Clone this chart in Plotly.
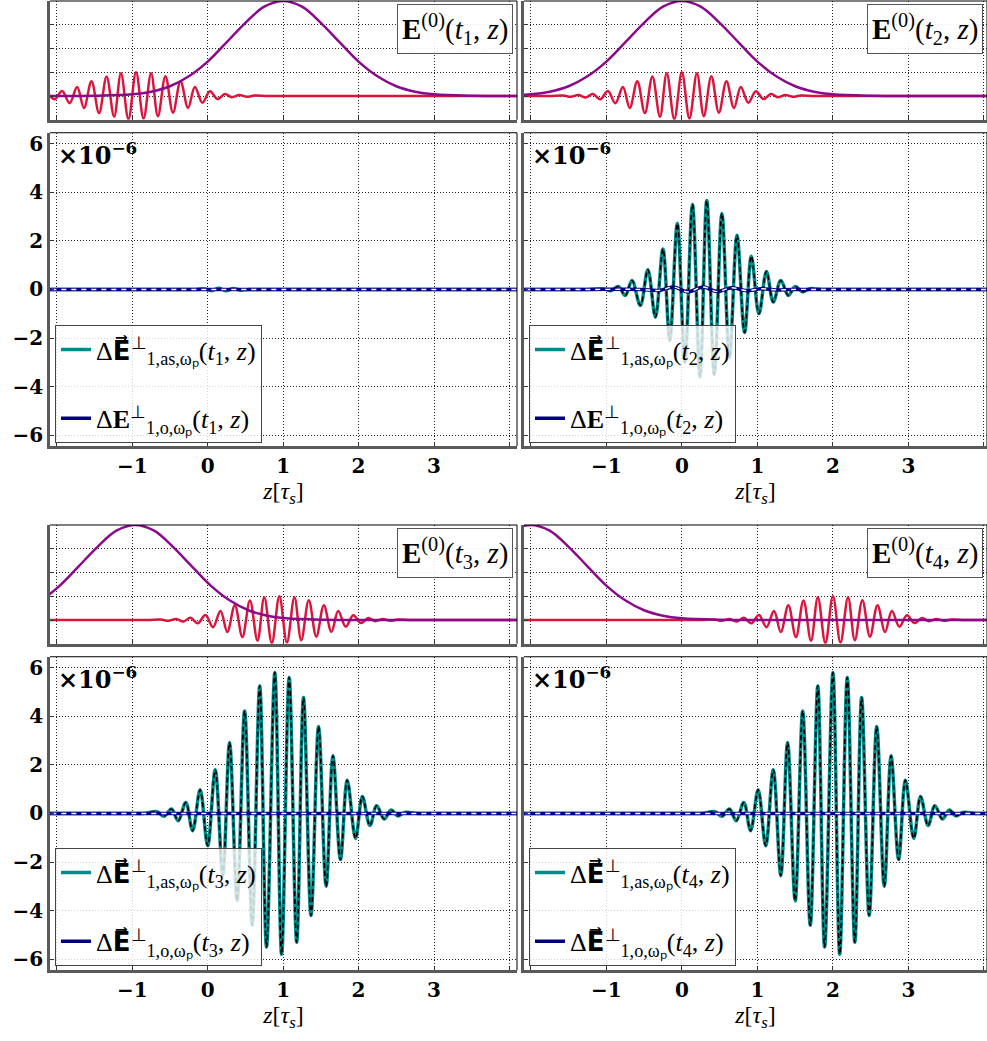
import plotly.graph_objects as go

# ---------------- data ----------------
X_TICKS = [-2, -1, 0, 1, 2, 3, 4]
X_TICKTEXT = ["", "\u22121", "0", "1", "2", "3", ""]
Y_BIG_TICKS = [-6, -4, -2, 0, 2, 4, 6]
Y_SMALL_TICKS = [-1, 0, 1, 2, 3, 4]

# pump envelope E^(0) (purple) – sampled shape relative to its peak
ENV_OFFSETS = [-7.0, -4.5, -3.2, -2.5, -2.0, -1.75, -1.5, -1.25, -1.0, -0.75, -0.5, -0.25, 0.0,
               0.25, 0.5, 0.75, 1.0, 1.25, 1.5, 1.75, 2.0, 2.5, 3.2, 4.5, 7.0]
ENV_VALUES = [0.0, 0.0, 0.0, 0.01, 0.07, 0.18, 0.41, 0.83, 1.45, 2.26, 3.08, 3.76, 4.0,
              3.76, 3.08, 2.26, 1.45, 0.83, 0.41, 0.18, 0.07, 0.01, 0.0, 0.0, 0.0]
PURPLE_CENTERS = [1.0, 0.0, -0.96, -2.0]

# probe field (red) – extrema relative to pulse centre (zeros where the trace is flat)
RED_OFFSETS = [-7.0, -5.0, -3.5, -2.6, -2.1, -1.75, -1.57, -1.47, -1.37, -1.27, -1.18, -1.08,
               -0.98, -0.88, -0.78, -0.69, -0.59, -0.49, -0.39, -0.29, -0.20, -0.10, 0.0,
               0.10, 0.20, 0.29, 0.39, 0.49, 0.59, 0.69, 0.78, 0.88, 0.98, 1.08, 1.18, 1.27,
               1.37, 1.47, 1.57, 1.75, 2.1, 2.6, 3.5, 5.0, 7.0]
RED_VALUES = [0.0, 0.0, 0.0, 0.0, 0.0, 0.0, 0.02, -0.03, 0.04, -0.06, 0.09, -0.14,
              0.21, -0.30, 0.38, -0.50, 0.62, -0.72, 0.82, -0.87, 0.96, -0.97, 1.0,
              -0.95, 0.96, -0.85, 0.83, -0.70, 0.62, -0.50, 0.38, -0.28, 0.20, -0.13, 0.08, -0.05,
              0.04, -0.03, 0.02, 0.0, 0.0, 0.0, 0.0, 0.0, 0.0]
RED_CENTERS = [-0.95, 0.0, 0.95, 2.0]

# Delta E_as (teal) for t1 : essentially zero, tiny ripple
T1_AS_Z = [-3.0, -1.5, -0.6, -0.3, -0.15, -0.05, 0.05, 0.15, 0.24, 0.34, 0.44, 0.54, 0.7,
           1.0, 2.0, 3.0, 5.0]
T1_AS_V = [0.0, 0.0, 0.0, 0.0, 0.0, 0.03, -0.05, 0.05, -0.05, 0.04, -0.03, 0.0, 0.0,
           0.0, 0.0, 0.0, 0.0]

# Delta E_as (teal) for t2
T2_AS_Z = [-3.0, -2.2, -1.6, -1.25, -1.03, -0.94, -0.84, -0.75, -0.66, -0.55, -0.45, -0.35,
           -0.25, -0.16, -0.06, 0.04, 0.14, 0.24, 0.33, 0.43, 0.53, 0.63, 0.73, 0.83, 0.92,
           1.02, 1.12, 1.21, 1.31, 1.41, 1.50, 1.60, 1.69, 1.85, 2.2, 2.8, 3.6, 5.0]
T2_AS_V = [0.0, 0.0, 0.0, 0.0, 0.02, -0.05, 0.12, -0.25, 0.37, -0.66, 0.81, -1.14,
           1.66, -2.10, 2.72, -3.00, 3.50, -3.60, 3.66, -3.50, 3.13, -2.80, 2.23, -1.77, 1.37,
           -1.00, 0.74, -0.52, 0.37, -0.25, 0.12, -0.10, 0.03, 0.0, 0.0, 0.0, 0.0, 0.0]

# Delta E_as (teal) for t3 / t4 : same packet, different centres
PACKET_OFFSETS = [-6.0, -4.5, -3.4, -2.6, -2.1, -1.75, -1.56, -1.47, -1.37, -1.28, -1.18,
                  -1.09, -0.99, -0.89, -0.79, -0.69, -0.60, -0.50, -0.40, -0.30, -0.20,
                  -0.11, 0.0, 0.09, 0.19, 0.29, 0.38, 0.48, 0.58, 0.68, 0.77, 0.87, 0.96,
                  1.07, 1.16, 1.26, 1.35, 1.45, 1.54, 1.63, 1.72, 1.9, 2.3, 2.9, 3.8, 6.0]
PACKET_VALUES = [0.0, 0.0, 0.0, 0.0, 0.0, 0.0, 0.07, -0.12, 0.18, -0.30, 0.45,
                 -0.71, 0.97, -1.33, 1.80, -2.56, 2.92, -3.60, 4.22, -4.60, 5.25,
                 -5.50, 5.80, -5.80, 5.60, -5.30, 4.77, -4.20, 3.58, -3.00, 2.37, -1.90, 1.37,
                 -1.03, 0.70, -0.50, 0.32, -0.23, 0.14, -0.10, 0.04, 0.0, 0.0, 0.0, 0.0, 0.0]
PACKET_CENTERS = [0.89, 2.0]

# Delta E_o (navy)
T2_O_Z = [-3.0, -2.0, -1.2, -0.55, -0.30, -0.11, 0.08, 0.28, 0.47, 0.66, 0.86, 1.05,
          1.25, 1.45, 1.8, 2.6, 3.5, 5.0]
T2_O_V = [0.0, 0.0, 0.0, 0.0, -0.04, 0.10, -0.10, 0.10, -0.09, 0.07, -0.05, 0.03,
          -0.02, 0.0, 0.0, 0.0, 0.0, 0.0]
FLAT_O_Z = [-3.0, 5.0]
FLAT_O_V = [0.0, 0.0]

TIME_LABELS = ["1", "2", "3", "4"]

# ---------------- styling ----------------
W, H = 987, 1041
PURPLE = "#8b0a8b"
RED = "#dc143c"
TEAL = "#008b8b"
NAVY = "#000080"
GRID = "rgba(0,0,0,0.85)"
TXT_FONT = "Liberation Serif"
TICK_FONT = dict(family="DejaVu Serif", size=20, color="black", weight="bold")

LEFT_DOM = [50 / W, 517 / W]
RIGHT_DOM = [524 / W, 1.0]
LEFT_RANGE = [-2.09, 4.1]
RIGHT_RANGE = [-2.09, 4.04]

VEC_E = '<span style="font-family:DejaVu Sans">E\u20d7</span>'


def ydom(top_px, bot_px):
    return [1 - bot_px / H, 1 - top_px / H]


def xn(i):
    return "x" if i == 1 else f"x{i}"


def yn(i):
    return "y" if i == 1 else f"y{i}"


SMALL_DOMS = [ydom(0, 119), ydom(0, 119), ydom(525, 644), ydom(525, 644)]
BIG_DOMS = [ydom(132, 446), ydom(132, 446), ydom(657, 971), ydom(657, 971)]
X_DOMS = [LEFT_DOM, RIGHT_DOM, LEFT_DOM, RIGHT_DOM]
X_RANGES = [LEFT_RANGE, RIGHT_RANGE, LEFT_RANGE, RIGHT_RANGE]

fig = go.Figure()
layout = dict(width=W, height=H, margin=dict(l=0, r=0, t=0, b=0),
              plot_bgcolor="white", paper_bgcolor="white", showlegend=True)
shapes = []
annotations = []


def axis_common():
    return dict(showgrid=True, gridcolor=GRID, griddash="1px,2px", gridwidth=1,
                zeroline=False, showline=True, linecolor="#5a5a5a", linewidth=2.5,
                ticks="inside", ticklen=4, tickcolor="#333", tickwidth=1)


for p in range(4):
    si = 2 * p + 1
    bi = 2 * p + 2
    left = p % 2 == 0
    t = TIME_LABELS[p]

    xa = axis_common()
    xa.update(domain=X_DOMS[p], range=X_RANGES[p], tickvals=X_TICKS, showticklabels=False,
              anchor=yn(si))
    ya = axis_common()
    ya.update(domain=SMALL_DOMS[p], range=[-1, 4], tickvals=Y_SMALL_TICKS, showticklabels=False,
              anchor=xn(si))
    layout["xaxis" if si == 1 else f"xaxis{si}"] = xa
    layout["yaxis" if si == 1 else f"yaxis{si}"] = ya

    xb = axis_common()
    xb.update(domain=X_DOMS[p], range=X_RANGES[p], tickvals=X_TICKS, ticktext=X_TICKTEXT,
              tickfont=TICK_FONT, anchor=yn(bi),
              title=dict(text="<i>z</i>[<i>\u03c4<sub>s</sub></i>]",
                         font=dict(family=TXT_FONT, size=24, color="black"), standoff=4))
    yb = axis_common()
    yb.update(domain=BIG_DOMS[p], range=[-6.45, 6.45], tickvals=Y_BIG_TICKS,
              showticklabels=left, tickfont=TICK_FONT, anchor=xn(bi))
    layout[f"xaxis{bi}"] = xb
    layout[f"yaxis{bi}"] = yb

    for ai in (si, bi):
        shapes.append(dict(type="line", xref=f"{xn(ai)} domain", yref=f"{yn(ai)} domain",
                           x0=0, x1=1, y0=1, y1=1, line=dict(color="black", width=1)))
        shapes.append(dict(type="line", xref=f"{xn(ai)} domain", yref=f"{yn(ai)} domain",
                           x0=1, x1=1, y0=0, y1=1, line=dict(color="black", width=1)))

    rc = RED_CENTERS[p]
    fig.add_trace(go.Scatter(x=[rc + o for o in RED_OFFSETS], y=RED_VALUES, mode="lines",
                             line=dict(color=RED, width=2.5, shape="spline", smoothing=1.0),
                             xaxis=xn(si), yaxis=yn(si), showlegend=False))
    pc = PURPLE_CENTERS[p]
    fig.add_trace(go.Scatter(x=[pc + o for o in ENV_OFFSETS], y=ENV_VALUES, mode="lines",
                             line=dict(color=PURPLE, width=2.5, shape="spline", smoothing=1.0),
                             xaxis=xn(si), yaxis=yn(si), showlegend=False))

    annotations.append(dict(
        xref=f"{xn(si)} domain", yref=f"{yn(si)} domain", x=0.992, y=0.975,
        xanchor="right", yanchor="top", showarrow=False,
        text=f"<b>E</b><sup>(0)</sup>(<i>t</i><sub>{t}</sub>, <i>z</i>)",
        font=dict(family=TXT_FONT, size=29, color="black"),
        bordercolor="#555", borderwidth=1, borderpad=4, bgcolor="rgba(255,255,255,0.9)"))

    if p == 0:
        az, av = T1_AS_Z, T1_AS_V
    elif p == 1:
        az, av = T2_AS_Z, T2_AS_V
    else:
        c = PACKET_CENTERS[p - 2]
        az, av = [c + o for o in PACKET_OFFSETS], PACKET_VALUES
    if p == 1:
        oz, ov = T2_O_Z, T2_O_V
    else:
        oz, ov = FLAT_O_Z, FLAT_O_V

    leg = "legend" if p == 0 else f"legend{p + 1}"
    e_o = VEC_E if p >= 2 else "E"
    as_name = (f"\u0394<b>{VEC_E}</b><sup>\u22a5</sup><sub>1,as,\u03c9\u209a</sub>"
               f"(<i>t</i><sub>{t}</sub>, <i>z</i>)")
    o_name = (f"\u0394<b>{e_o}</b><sup>\u22a5</sup><sub>1,o,\u03c9\u209a</sub>"
              f"(<i>t</i><sub>{t}</sub>, <i>z</i>)")

    fig.add_trace(go.Scatter(x=az, y=av, mode="lines", name=as_name,
                             line=dict(color=TEAL, width=3.5, shape="spline", smoothing=1.0),
                             xaxis=xn(bi), yaxis=yn(bi), legend=leg, legendgroup=f"as{p}"))
    fig.add_trace(go.Scatter(x=az, y=av, mode="lines", showlegend=False,
                             line=dict(color="black", width=1.6, dash="5px,3px",
                                       shape="spline", smoothing=1.0),
                             xaxis=xn(bi), yaxis=yn(bi)))
    fig.add_trace(go.Scatter(x=oz, y=ov, mode="lines", name=o_name,
                             line=dict(color=NAVY, width=3.5, shape="spline", smoothing=1.0),
                             xaxis=xn(bi), yaxis=yn(bi), legend=leg, legendgroup=f"o{p}"))
    fig.add_trace(go.Scatter(x=oz, y=ov, mode="lines", showlegend=False,
                             line=dict(color="white", width=1.4, dash="5px,5px",
                                       shape="spline", smoothing=1.0),
                             xaxis=xn(bi), yaxis=yn(bi)))

    annotations.append(dict(
        xref=f"{xn(bi)} domain", yref=f"{yn(bi)} domain", x=0.012, y=0.99,
        xanchor="left", yanchor="top", showarrow=False,
        text="<b>\u00d710<sup>\u22126</sup></b>",
        font=dict(family="DejaVu Serif", size=24, color="black")))

    lx = 55 / W if left else 529 / W
    ly = 1 - (443 / H if p < 2 else 967 / H)
    layout[leg] = dict(x=lx, y=ly, xanchor="left", yanchor="bottom",
                       bgcolor="rgba(255,255,255,0.8)", bordercolor="#444", borderwidth=1,
                       font=dict(family=TXT_FONT, size=26, color="black"),
                       tracegroupgap=32, itemwidth=30, traceorder="grouped")

layout["shapes"] = shapes
layout["annotations"] = annotations
fig.update_layout(**layout)
fig.write_html("out.html")
